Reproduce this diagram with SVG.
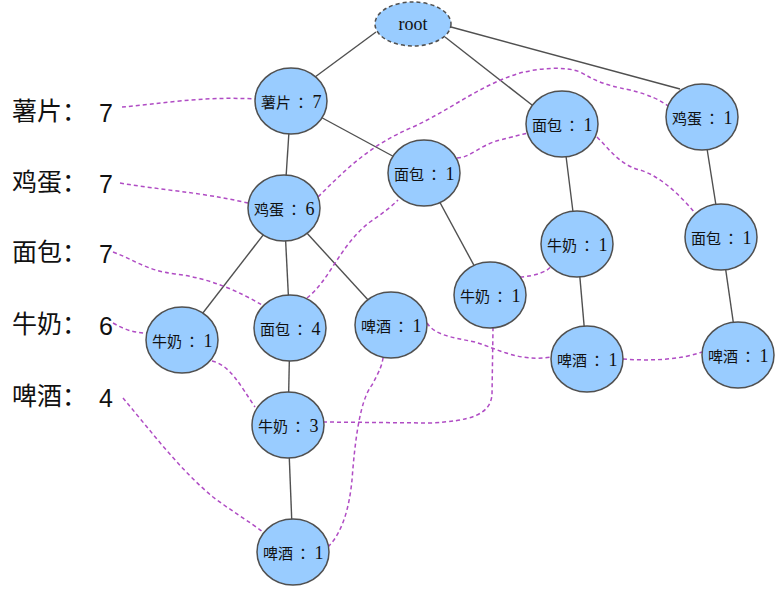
<svg xmlns="http://www.w3.org/2000/svg" width="777" height="589" viewBox="0 0 777 589">
<style>
.edge{stroke:#505050;stroke-width:1.4;fill:none}
.link{stroke:#b04cc4;stroke-width:1.5;fill:none;stroke-dasharray:4 3}
.node ellipse{fill:#99ccff;stroke:#505050;stroke-width:1.5}
.node text{font-family:"Noto Sans CJK SC",sans-serif;font-size:15px;fill:#111;text-anchor:middle}
.node tspan.c{font-family:"Noto Sans CJK JP",sans-serif;font-size:15px}
.node tspan.d{font-family:"Liberation Serif",serif;font-size:18px}
.lbl{font-family:"Liberation Sans","Noto Sans CJK SC",sans-serif;font-size:25px;fill:#111}
</style>
<rect width="777" height="589" fill="#fff"/>
<g id="labels">
<text class="lbl" x="12" y="120">薯片：<tspan x="99" y="122">7</tspan></text>
<text class="lbl" x="12" y="191">鸡蛋：<tspan x="99" y="193">7</tspan></text>
<text class="lbl" x="12" y="261">面包：<tspan x="99" y="263">7</tspan></text>
<text class="lbl" x="12" y="333">牛奶：<tspan x="99" y="335">6</tspan></text>
<text class="lbl" x="12" y="405">啤酒：<tspan x="99" y="407">4</tspan></text>
</g>
<g id="connectors">
<line class="edge" x1="376" y1="32" x2="315" y2="77"/>
<line class="edge" x1="445" y1="37" x2="532" y2="105"/>
<line class="edge" x1="451" y1="27" x2="680" y2="89"/>
<line class="edge" x1="291" y1="101" x2="284" y2="208"/>
<line class="edge" x1="291" y1="101" x2="424" y2="173"/>
<line class="edge" x1="284" y1="208" x2="182" y2="340"/>
<line class="edge" x1="284" y1="208" x2="290" y2="328"/>
<line class="edge" x1="284" y1="208" x2="391" y2="325"/>
<line class="edge" x1="290" y1="328" x2="288" y2="425"/>
<line class="edge" x1="288" y1="425" x2="293" y2="552"/>
<line class="edge" x1="424" y1="173" x2="490" y2="295"/>
<line class="edge" x1="562" y1="124" x2="577" y2="244"/>
<line class="edge" x1="577" y1="244" x2="587" y2="359"/>
<line class="edge" x1="702" y1="117" x2="721" y2="237"/>
<line class="edge" x1="721" y1="237" x2="738" y2="355"/>
<path class="link" d="M122,107 C160,104 200,96 256,99"/>
<path class="link" d="M120,183 C160,190 200,192 248,203"/>
<path class="link" d="M318,197 C345,170 370,145 413,127 C450,110 480,85 520,73 C540,68 565,66 580,72 C595,80 600,84 630,90 C650,95 660,100 668,106"/>
<path class="link" d="M113,252 C135,260 145,270 175,274 C210,278 240,292 262,305"/>
<path class="link" d="M307,298 C330,280 340,245 370,222 C380,215 390,208 398,200"/>
<path class="link" d="M457,158 C470,158 480,145 500,140 C515,136 520,135 528,133"/>
<path class="link" d="M597,137 C610,150 620,165 640,170 C660,176 680,195 695,213"/>
<path class="link" d="M113,323 C125,330 135,333 147,333"/>
<path class="link" d="M212,361 C230,365 240,385 255,407"/>
<path class="link" d="M323,422 L430,423 C470,421 490,415 492,395 L493,328"/>
<path class="link" d="M520,277 C535,276 548,272 552,265"/>
<path class="link" d="M123,398 C150,430 180,470 213,497 C230,510 250,522 263,532"/>
<path class="link" d="M328,547 C345,530 350,500 352,480 C355,440 360,400 372,385 C380,370 382,365 383,358"/>
<path class="link" d="M427,323 C435,335 450,337 475,342 C500,350 520,362 551,357"/>
<path class="link" d="M623,359 C650,361 680,360 702,352"/>
</g>
<g id="root" class="node"><ellipse cx="413" cy="24" rx="38" ry="22" style="stroke-dasharray:4 3"/><text x="413" y="30" style="font-family:'Liberation Serif',serif;font-size:18px">root</text></g>
<g id="n_shupian7" class="node"><ellipse cx="291" cy="101" rx="36" ry="33"/><text y="108"><tspan x="276">薯片</tspan><tspan class="c" x="301">：</tspan><tspan class="d" x="317">7</tspan></text></g>
<g id="n_jidan6" class="node"><ellipse cx="284" cy="208" rx="36" ry="33"/><text y="215"><tspan x="269">鸡蛋</tspan><tspan class="c" x="294">：</tspan><tspan class="d" x="310">6</tspan></text></g>
<g id="n_mianbao1a" class="node"><ellipse cx="424" cy="173" rx="36" ry="33"/><text y="180"><tspan x="409">面包</tspan><tspan class="c" x="434">：</tspan><tspan class="d" x="450">1</tspan></text></g>
<g id="n_mianbao1b" class="node"><ellipse cx="562" cy="124" rx="36" ry="33"/><text y="131"><tspan x="547">面包</tspan><tspan class="c" x="572">：</tspan><tspan class="d" x="588">1</tspan></text></g>
<g id="n_jidan1" class="node"><ellipse cx="702" cy="117" rx="36" ry="33"/><text y="124"><tspan x="687">鸡蛋</tspan><tspan class="c" x="712">：</tspan><tspan class="d" x="728">1</tspan></text></g>
<g id="n_mianbao1c" class="node"><ellipse cx="721" cy="237" rx="36" ry="33"/><text y="244"><tspan x="706">面包</tspan><tspan class="c" x="731">：</tspan><tspan class="d" x="747">1</tspan></text></g>
<g id="n_niunai1b" class="node"><ellipse cx="577" cy="244" rx="36" ry="33"/><text y="251"><tspan x="562">牛奶</tspan><tspan class="c" x="587">：</tspan><tspan class="d" x="603">1</tspan></text></g>
<g id="n_niunai1a" class="node"><ellipse cx="490" cy="295" rx="36" ry="33"/><text y="302"><tspan x="475">牛奶</tspan><tspan class="c" x="500">：</tspan><tspan class="d" x="516">1</tspan></text></g>
<g id="n_pijiu1a" class="node"><ellipse cx="391" cy="325" rx="36" ry="33"/><text y="332"><tspan x="376">啤酒</tspan><tspan class="c" x="401">：</tspan><tspan class="d" x="417">1</tspan></text></g>
<g id="n_pijiu1b" class="node"><ellipse cx="587" cy="359" rx="36" ry="33"/><text y="366"><tspan x="572">啤酒</tspan><tspan class="c" x="597">：</tspan><tspan class="d" x="613">1</tspan></text></g>
<g id="n_pijiu1c" class="node"><ellipse cx="738" cy="355" rx="36" ry="33"/><text y="362"><tspan x="723">啤酒</tspan><tspan class="c" x="748">：</tspan><tspan class="d" x="764">1</tspan></text></g>
<g id="n_niunai1c" class="node"><ellipse cx="182" cy="340" rx="36" ry="33"/><text y="347"><tspan x="167">牛奶</tspan><tspan class="c" x="192">：</tspan><tspan class="d" x="208">1</tspan></text></g>
<g id="n_mianbao4" class="node"><ellipse cx="290" cy="328" rx="36" ry="33"/><text y="335"><tspan x="275">面包</tspan><tspan class="c" x="300">：</tspan><tspan class="d" x="316">4</tspan></text></g>
<g id="n_niunai3" class="node"><ellipse cx="288" cy="425" rx="36" ry="33"/><text y="432"><tspan x="273">牛奶</tspan><tspan class="c" x="298">：</tspan><tspan class="d" x="314">3</tspan></text></g>
<g id="n_pijiu1d" class="node"><ellipse cx="293" cy="552" rx="36" ry="33"/><text y="559"><tspan x="278">啤酒</tspan><tspan class="c" x="303">：</tspan><tspan class="d" x="319">1</tspan></text></g>
</svg>
